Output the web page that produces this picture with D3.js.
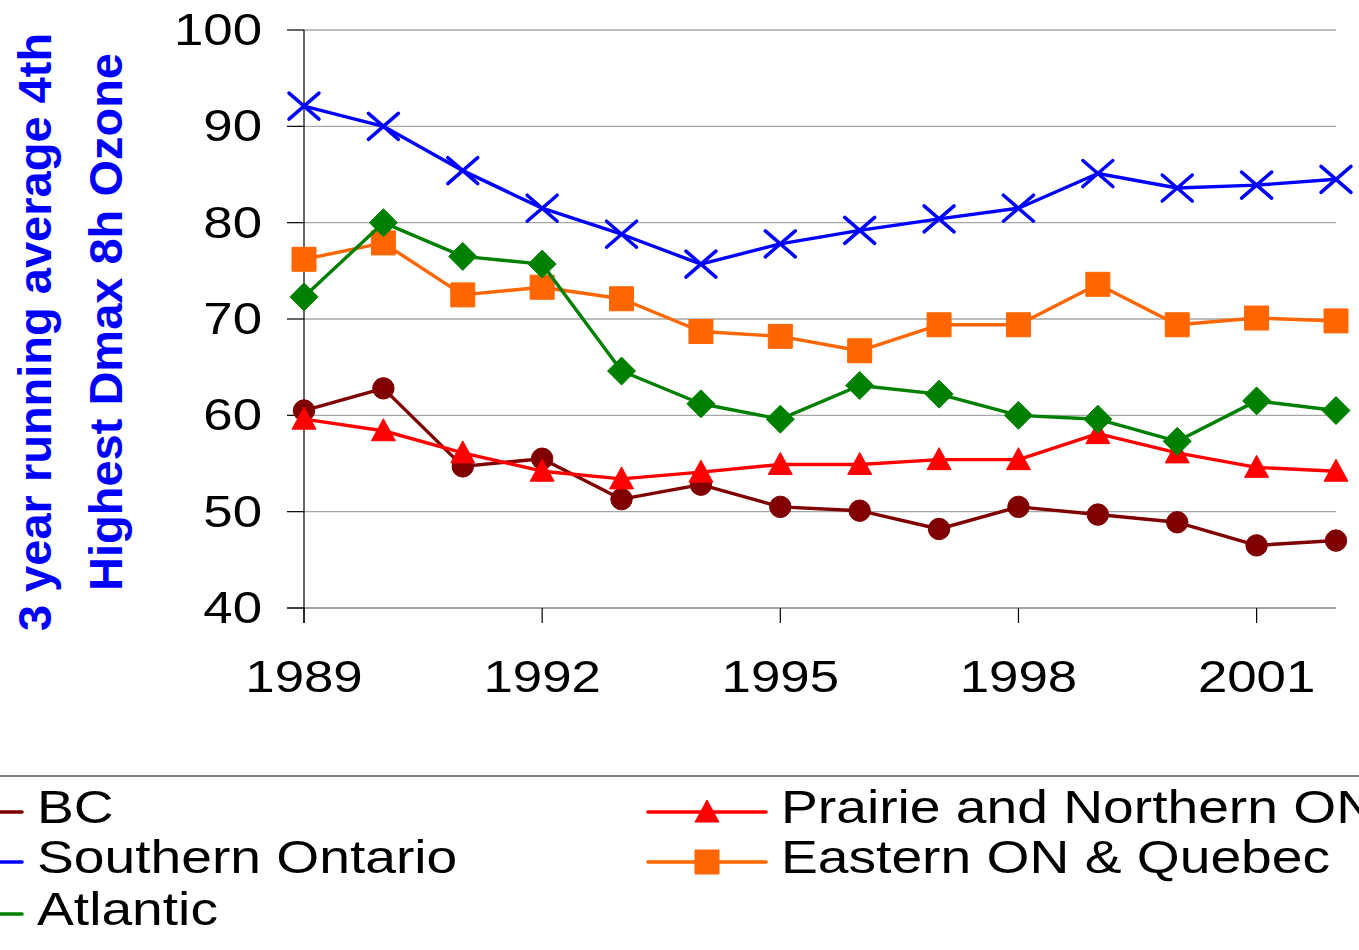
<!DOCTYPE html>
<html><head><meta charset="utf-8">
<script src="https://cdn.jsdelivr.net/npm/d3@7"></script>
<style>html,body{margin:0;padding:0;background:#fff;overflow:hidden}text{font-family:"Liberation Sans",Arial,sans-serif}</style>
</head><body>
<svg id="c" width="1359" height="950"></svg>
<script>
const years = [1989,1990,1991,1992,1993,1994,1995,1996,1997,1998,1999,2000,2001,2002];
const tickYears = [1989,1992,1995,1998,2001];
const yTicks = [40,50,60,70,80,90,100];
const bc = [60.5,62.8,54.7,55.5,51.3,52.8,50.5,50.1,48.2,50.5,49.7,48.9,46.5,47.0];
const prairie = [59.6,58.4,56.1,54.2,53.4,54.1,54.9,54.9,55.4,55.4,58.1,56.1,54.6,54.2];
const southernOntario = [92.1,90.0,85.4,81.5,78.8,75.7,77.8,79.2,80.4,81.5,85.1,83.6,83.9,84.5];
const easternQuebec = [76.2,77.9,72.5,73.3,72.1,68.7,68.2,66.7,69.4,69.4,73.6,69.4,70.1,69.8];
const atlantic = [72.3,80.0,76.5,75.7,64.6,61.2,59.6,63.1,62.2,60.0,59.6,57.3,61.5,60.5];
const seriesNames = ["BC","Prairie and Northern ON","Southern Ontario","Eastern ON & Quebec","Atlantic"];

const series = [
  {name:seriesNames[0], values:bc, color:"#800000", marker:"circle", col:0, row:0},
  {name:seriesNames[1], values:prairie, color:"#FF0000", marker:"triangle", col:1, row:0},
  {name:seriesNames[2], values:southernOntario, color:"#0000FF", marker:"x", col:0, row:1},
  {name:seriesNames[3], values:easternQuebec, color:"#FF6600", marker:"square", col:1, row:1},
  {name:seriesNames[4], values:atlantic, color:"#008000", marker:"diamond", col:0, row:2}
];

const svg = d3.select("#c");
const x = d3.scaleLinear().domain([1989,2002]).range([304,1336]);
const y = d3.scaleLinear().domain([40,100]).range([608,30]);
const SX = 1.2;

function markerPath(type){
  switch(type){
    case "circle": return d3.symbol(d3.symbolCircle, 360)();
    case "square": return "M-12,-12H12V12H-12Z";
    case "diamond": return "M0,-14L14,0L0,14L-14,0Z";
    case "triangle": return "M0,-12L12,10L-12,10Z";
    case "x": return "M-15,-13L15,13M-15,13L15,-13";
  }
}
function drawMarker(g, type, color){
  const p = g.append("path").attr("d", markerPath(type));
  if(type==="x") p.attr("fill","none").attr("stroke",color).attr("stroke-width",3.5).attr("stroke-linecap","round");
  else p.attr("fill",color).attr("stroke",color).attr("stroke-width",1).attr("stroke-linejoin","round");
}

// gridlines
svg.append("g").selectAll("line").data(yTicks.filter(d=>d>40)).join("line")
  .attr("x1",304).attr("x2",1336).attr("y1",d=>y(d)).attr("y2",d=>y(d))
  .attr("stroke","#a6a6a6").attr("stroke-width",1.3);
// x axis line
svg.append("line").attr("x1",287).attr("x2",1336).attr("y1",y(40)).attr("y2",y(40))
  .attr("stroke","#808080").attr("stroke-width",1.5);
// y axis
svg.append("line").attr("x1",304).attr("x2",304).attr("y1",y(100)).attr("y2",y(40)+15)
  .attr("stroke","#000").attr("stroke-width",1.2);
svg.append("g").selectAll("line").data(yTicks).join("line")
  .attr("x1",287).attr("x2",304).attr("y1",d=>y(d)).attr("y2",d=>y(d))
  .attr("stroke","#000").attr("stroke-width",1.2);
// x ticks
svg.append("g").selectAll("line").data(tickYears).join("line")
  .attr("x1",d=>x(d)).attr("x2",d=>x(d)).attr("y1",y(40)).attr("y2",y(40)+15)
  .attr("stroke","#000").attr("stroke-width",1.2);

// y tick labels
svg.append("g").selectAll("text").data(yTicks).join("text")
  .attr("transform",d=>`translate(262,${y(d)+15}) scale(${SX},1)`)
  .attr("text-anchor","end").attr("font-size",44).attr("fill","#000").text(d=>d);
// x tick labels
svg.append("g").selectAll("text").data(tickYears).join("text")
  .attr("transform",d=>`translate(${x(d)},692) scale(${SX},1)`)
  .attr("text-anchor","middle").attr("font-size",44).attr("fill","#000").text(d=>d);

// y title
svg.append("text").attr("transform","translate(51,332) rotate(-90)")
  .attr("text-anchor","middle").attr("font-size",47).attr("font-weight","bold").attr("fill","#0000FF")
  .text("3 year running average 4th");
svg.append("text").attr("transform","translate(122,322) rotate(-90)")
  .attr("text-anchor","middle").attr("font-size",47).attr("font-weight","bold").attr("fill","#0000FF")
  .text("Highest Dmax 8h Ozone");

// series
const line = d3.line().x((d,i)=>x(years[i])).y(d=>y(d));
series.forEach(s=>{
  const g = svg.append("g");
  g.append("path").attr("d", line(s.values)).attr("fill","none").attr("stroke",s.color)
    .attr("stroke-width",3.4).attr("stroke-linejoin","round");
  s.values.forEach((v,i)=>{
    const m = g.append("g").attr("transform",`translate(${x(years[i])},${y(v)})`);
    drawMarker(m, s.marker, s.color);
  });
});

// legend
svg.append("line").attr("x1",0).attr("x2",1359).attr("y1",776).attr("y2",776)
  .attr("stroke","#808080").attr("stroke-width",2);
const colX = [{l1:-96,l2:22,tx:37},{l1:648,l2:766,tx:781}];
const rowY = [812,862,914];
series.forEach(s=>{
  const c = colX[s.col], ry = rowY[s.row];
  const g = svg.append("g");
  g.append("line").attr("x1",c.l1).attr("x2",c.l2).attr("y1",ry).attr("y2",ry)
    .attr("stroke",s.color).attr("stroke-width",3.6).attr("stroke-linecap","round");
  const m = g.append("g").attr("transform",`translate(${(c.l1+c.l2)/2},${ry})`);
  drawMarker(m, s.marker, s.color);
  g.append("text").attr("transform",`translate(${c.tx},${ry+11}) scale(${SX},1)`)
    .attr("font-size",46).attr("fill","#000").text(s.name);
});
</script>
</body></html>
